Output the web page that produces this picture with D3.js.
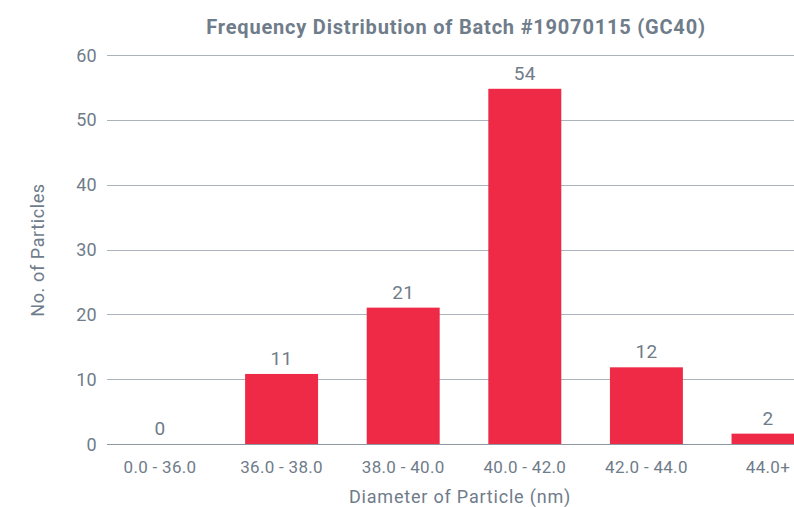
<!DOCTYPE html>
<html lang="en">
<head>
	<meta charset="utf-8">
	<title>Frequency Distribution</title>
	<script src="https://cdn.jsdelivr.net/npm/d3@7"></script>
	<style>
		body { margin: 0; background: #fff; }
		text { font-family: Roboto, "Open Sans", sans-serif; fill: #6f7c8a; }
	</style>
</head>
<body>
	<script>
		// data
		var categories = ["0.0 - 36.0", "36.0 - 38.0", "38.0 - 40.0", "40.0 - 42.0", "42.0 - 44.0", "44.0+"];
		var counts = [0, 11, 21, 54, 12, 2];
		var yTicks = [0, 10, 20, 30, 40, 50, 60];

		var w = 794, h = 507;

		var svg = d3.select("body").append("svg")
			.attr("width", w)
			.attr("height", h);

		// scales
		var xScale = d3.scaleBand()
			.domain(categories)
			.range([123.5, 804.5])
			.paddingInner(0.4)
			.paddingOuter(0);

		// gridline scale
		var yScale = d3.scaleLinear()
			.domain([0, 60])
			.range([444, 55]);

		// bars in the original sit on a slightly stretched scale
		var yBar = d3.scaleLinear()
			.domain([0, 60])
			.range([446.9, 49]);

		// gridlines
		svg.selectAll("line.grid")
			.data(yTicks)
			.enter()
			.append("line")
			.attr("class", "grid")
			.attr("x1", 107)
			.attr("x2", w)
			.attr("y1", function (d) { return Math.round(yScale(d)) + 0.5; })
			.attr("y2", function (d) { return Math.round(yScale(d)) + 0.5; })
			.attr("stroke", function (d) { return d === 0 ? "#8e98a3" : "#aab2bb"; })
			.attr("stroke-width", 1);

		// y tick labels
		svg.selectAll("text.ytick")
			.data(yTicks)
			.enter()
			.append("text")
			.attr("class", "ytick")
			.attr("x", 97)
			.attr("y", function (d) { return yScale(d) + 6.5; })
			.attr("text-anchor", "end")
			.attr("font-size", "18px")
			.attr("letter-spacing", "0.3px")
			.text(function (d) { return d; });

		// bars
		svg.selectAll("rect")
			.data(counts)
			.enter()
			.append("rect")
			.attr("x", function (d, i) { return xScale(categories[i]); })
			.attr("y", function (d) { return Math.min(yBar(d), 444); })
			.attr("width", xScale.bandwidth())
			.attr("height", function (d) { return Math.max(0, 444 - yBar(d)); })
			.attr("fill", "#ee2a47");

		// value labels
		svg.selectAll("text.val")
			.data(counts)
			.enter()
			.append("text")
			.attr("class", "val")
			.attr("x", function (d, i) { return xScale(categories[i]) + xScale.bandwidth() / 2; })
			.attr("y", function (d) { return Math.min(yBar(d), 444) - 9; })
			.attr("text-anchor", "middle")
			.attr("font-size", "19px")
			.attr("letter-spacing", "0.3px")
			.text(function (d) { return d; });

		// x labels
		svg.selectAll("text.xlab")
			.data(categories)
			.enter()
			.append("text")
			.attr("class", "xlab")
			.attr("x", function (d) { return xScale(d) + xScale.bandwidth() / 2; })
			.attr("y", 473)
			.attr("text-anchor", "middle")
			.attr("font-size", "17px")
			.attr("letter-spacing", "0.3px")
			.text(function (d) { return d; });

		// titles
		svg.append("text")
			.attr("x", 456)
			.attr("y", 34)
			.attr("text-anchor", "middle")
			.attr("font-size", "20px")
			.attr("font-weight", "bold")
			.attr("letter-spacing", "0.8px")
			.text("Frequency Distribution of Batch #19070115 (GC40)");

		svg.append("text")
			.attr("x", 460)
			.attr("y", 503)
			.attr("text-anchor", "middle")
			.attr("font-size", "18px")
			.attr("letter-spacing", "0.8px")
			.text("Diameter of Particle (nm)");

		svg.append("text")
			.attr("transform", "translate(44,250) rotate(-90)")
			.attr("text-anchor", "middle")
			.attr("font-size", "18px")
			.attr("letter-spacing", "0.6px")
			.text("No. of Particles");
	</script>
</body>
</html>
